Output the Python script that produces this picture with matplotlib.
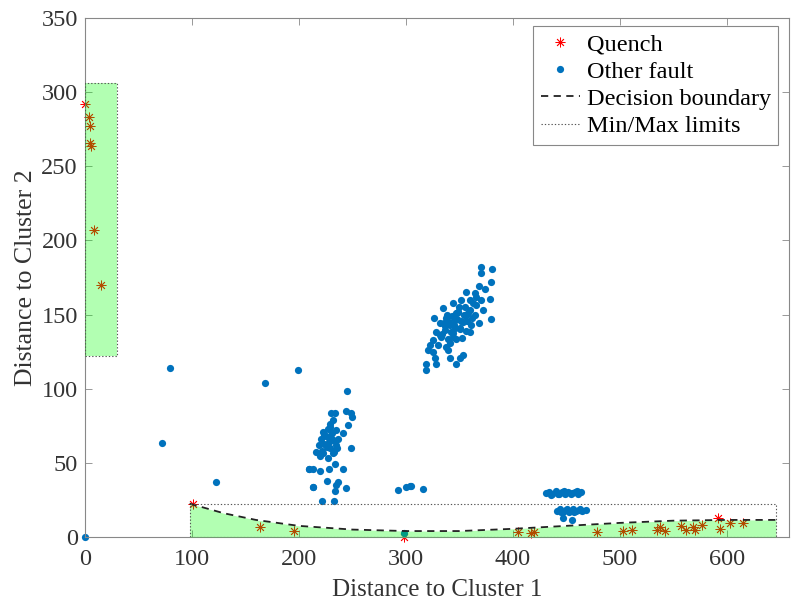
import numpy as np
import matplotlib
matplotlib.use("Agg")
import matplotlib.pyplot as plt

plt.rcParams['font.family'] = ['Liberation Serif', 'DejaVu Serif']

# quench events (distance to cluster 1, distance to cluster 2)
quench_x = [0, 4, 5.3, 5, 6, 9, 15.5, 101, 163.5, 195.6, 298, 405, 417.5, 420,
            479, 503, 511, 535, 538, 542, 557.6, 562, 568, 570, 577, 592, 594, 603, 615]
quench_y = [292, 283, 277, 266, 264, 207, 170, 22, 6.5, 4.3, 0.3, 3.4, 3, 3.5,
            3.6, 4.2, 5, 5, 6.5, 4.2, 7.4, 5, 7, 4.7, 8, 12.6, 5.2, 9.4, 9.2]

# other faults
other_x = [0, 72, 79.4, 168, 199, 123, 298,
           # small group near 300
           292.8, 300.6, 303.7, 305, 316,
           # cluster near (225, 60)
           245, 230.5, 234, 244, 249, 250, 232, 246, 229, 223, 235, 241, 227, 232,
           224, 235, 229, 216.5, 223, 232, 249, 227, 220, 209.6, 213, 219.6, 228,
           241, 233.6, 226.8, 236.7, 235, 213, 244, 234, 222, 232.7, 210, 213,
           221, 225, 228, 231, 226, 222, 230, 237, 219, 224, 227, 233, 236, 229,
           # cluster near (345, 145)
           370.7, 380.7, 370.7, 379.7, 368.5, 373.8, 356.7, 364.5, 378.5, 370.7,
           359.8, 352, 344, 366, 372, 335, 349, 356.7, 364.5, 379.4, 326, 338,
           345.8, 353.6, 331.8, 341, 361.4, 368, 350.5, 336.4, 328.6, 344, 359.8,
           333.3, 347.4, 339.5, 325.5, 322.4, 330.2, 338, 320.8, 325.5, 339.5,
           353.6, 350.5, 341, 327, 319.3, 328.6, 347.4, 318.7,
           340, 343, 346, 349, 352, 355, 358, 337, 334, 342, 348, 354, 360, 345,
           351, 357, 363, 339, 336, 344, 350, 356, 362, 347, 353, 341, 332, 366,
           # band near (445, 30)
           431, 434, 437, 440, 443, 446, 449, 452, 455, 458, 461, 464, 436, 442,
           448, 454, 460,
           # band near (455, 18)
           441, 444, 447, 450, 453, 456, 459, 462, 465, 468, 445, 451, 457, 463,
           447, 455]
other_y = [0, 63.4, 114, 104, 112.6, 37, 3,
           31.5, 33.5, 34.6, 34.6, 32.4,
           98.5, 83.8, 83.4, 85, 83.8, 80.7, 79, 75.5, 74.4, 71, 72, 70, 67.7, 65.4,
           63, 62, 59.8, 57.5, 56.4, 56.4, 60.2, 53, 54.6, 45.9, 45.6, 44.7, 45.6,
           45.6, 49, 37.8, 37.3, 35, 33.5, 32.9, 31.3, 24.5, 24.5, 45.8, 34,
           66, 68, 64, 70, 61, 58, 67, 66, 62, 69, 73, 57, 60, 76,
           182.3, 180.5, 177.8, 172, 169.3, 167, 165.4, 164.3, 160.2, 159.8,
           159.8, 159.8, 157.5, 156.4, 153, 154.2, 152, 149.7, 149.7, 147, 147.5, 147.5,
           146.3, 145.2, 144, 143, 143, 144, 140.7, 139.6, 138.4, 137.3, 138.4,
           135, 133.3, 133.3, 132.8, 129.5, 129.5, 128.3, 126, 125, 126,
           122.7, 120.5, 120.5, 120.5, 117, 117, 116.7, 112.6,
           145, 149, 141, 152, 146, 155, 151, 142, 137, 138, 147, 150, 153, 143,
           140, 146, 158, 150, 144, 135, 155, 139, 148, 151, 134, 131, 136, 162,
           29.5, 30.5, 29, 30.8, 29.3, 30.5, 29, 30.6, 29.4, 30.2, 29.2, 30.4, 28.6,
           28.8, 31, 28.7, 31.2,
           17.5, 18.8, 16.8, 18.5, 17, 18.7, 17.2, 18.4, 17.6, 18.3, 16.6, 19.2, 16.8,
           19, 12.6, 11.5]

# decision boundary (lower region)
boundary_x = [98, 130, 160, 200, 250, 300, 350, 400, 450, 500, 550, 600, 646]
boundary_y = [22.5, 16, 11.5, 7.5, 5, 4, 4, 5.5, 7.5, 9.5, 11, 11.5, 11.5]

# min/max limits of the two quench regions: (x0, x1, y0, y1)
upper_box = (0, 30, 122, 306)
lower_box = (98, 646, 0, 22.5)

fig = plt.figure(figsize=(7.92, 6.02), dpi=100)
ax = fig.add_axes([0.107, 0.108, 0.889, 0.862])

blue = '#0072BD'
green = '#00ff00'
text_col = '#333333'

ax.plot(quench_x, quench_y, linestyle='none', marker=(8, 2, 0), markersize=7,
        markeredgewidth=0.6, color='red', label='Quench', zorder=2, clip_on=False)
ax.plot(other_x, other_y, linestyle='none', marker='o', markersize=5.2,
        markeredgewidth=0, color=blue, label='Other fault', zorder=2, clip_on=False)

# green quench regions, drawn over the markers
x0, x1, y0, y1 = upper_box
ax.fill_between([x0, x1], y0, y1, color=green, alpha=0.3, linewidth=0, zorder=3)
ax.fill_between(boundary_x, 0, boundary_y, color=green, alpha=0.3, linewidth=0, zorder=3)

ax.plot(boundary_x, boundary_y, color='#222222', linestyle=(0, (4, 3)),
        linewidth=1.3, label='Decision boundary', zorder=4)

first = True
for bx0, bx1, by0, by1 in (upper_box, lower_box):
    ax.plot([bx0, bx1, bx1, bx0, bx0], [by0, by0, by1, by1, by0], color='#555555',
            linestyle=(0, (1.2, 1.8)), linewidth=0.8, zorder=4,
            label='Min/Max limits' if first else None)
    first = False

ax.set_xlim(0, 658)
ax.set_ylim(0, 350)
ax.set_xticks(np.arange(0, 601, 100))
ax.set_yticks(np.arange(0, 351, 50))
ax.tick_params(direction='in', length=5, width=0.6, labelsize=17.5, colors='#888888',
               labelcolor=text_col, top=True, right=True)
ax.tick_params(axis='x', pad=9)
ax.tick_params(axis='y', pad=5)
for sp in ax.spines.values():
    sp.set_color('#888888')
    sp.set_linewidth(0.8)

ax.set_xlabel('Distance to Cluster 1', fontsize=18, color=text_col, labelpad=6)
ax.set_ylabel('Distance to Cluster 2', fontsize=18.5, color=text_col, labelpad=3)

leg = ax.legend(loc='upper right', bbox_to_anchor=(0.985, 0.985), fontsize=17.5,
                fancybox=False, framealpha=1, edgecolor='#888888', handlelength=1.6,
                handletextpad=0.3, labelspacing=0.22, borderpad=0.3, borderaxespad=0)
leg.get_frame().set_linewidth(0.8)

fig.savefig('out.png', dpi=100)
